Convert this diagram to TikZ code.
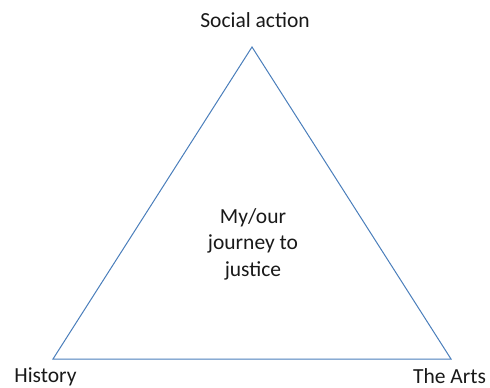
\documentclass[tikz,border=0pt]{standalone}
\usepackage{fontspec}
\setmainfont{Carlito}
\definecolor{lineblue}{HTML}{4A7EBB}
\begin{document}
\begin{tikzpicture}[x=1pt,y=-1pt,
  lbl/.style={font=\fontsize{21.5}{26.5}\selectfont, text=black!90, inner sep=0pt, align=center},
  tri/.style={draw=lineblue, line width=1pt, line join=miter}]
\useasboundingbox (0,0) rectangle (490,388);
\coordinate (top) at (252,47);
\coordinate (bl) at (53,359);
\coordinate (br) at (451,359);
\draw[tri] (top) -- (br) -- (bl) -- cycle;
\node[lbl] (soc) at (255,20) {Social action};
\node[lbl] (hist) at (45.5,376.5) {History};
\node[lbl] (arts) at (449.5,376.5) {The Arts};
\node[lbl] (ctr) at (253,244) {My/our\\journey to\\justice};
\end{tikzpicture}
\end{document}
